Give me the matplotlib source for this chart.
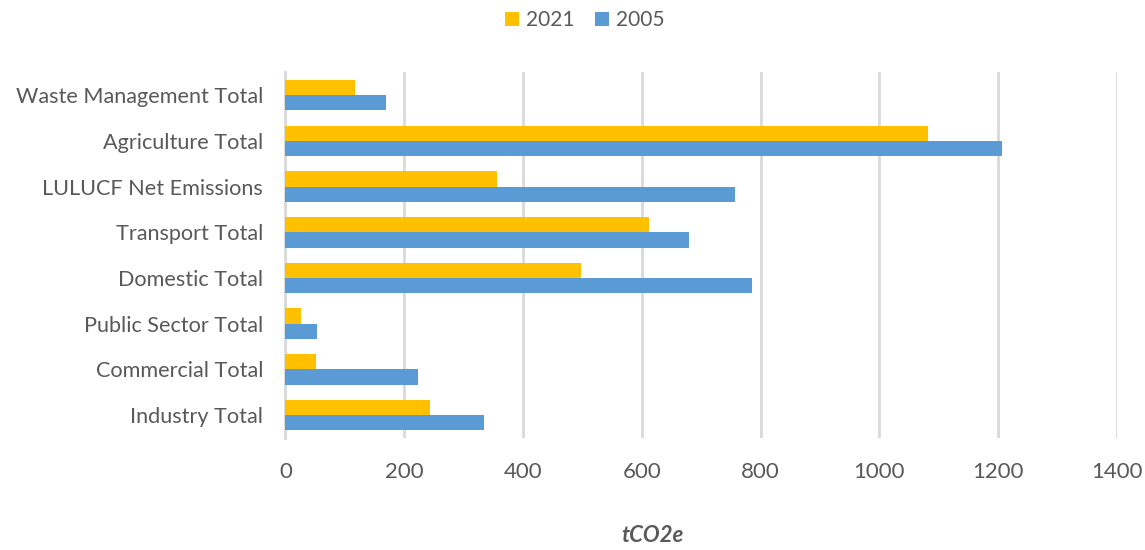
import numpy as np
import matplotlib.pyplot as plt

plt.rcParams['font.family'] = ['Lato', 'DejaVu Sans']

categories = ['Industry Total', 'Commercial Total', 'Public Sector Total', 'Domestic Total',
              'Transport Total', 'LULUCF Net Emissions', 'Agriculture Total',
              'Waste Management Total']
v2021 = [243, 51, 27, 497, 612, 357, 1082, 117]
v2005 = [334, 224, 53, 786, 680, 757, 1206, 170]

grey = '#595959'
y = np.arange(len(categories))
h = 0.335

fig = plt.figure(figsize=(11.45, 5.5), dpi=100)
ax = fig.add_axes([0.2493, 0.2036, 0.7262, 0.665])

ax.barh(y + h / 2, v2021, height=h, color='#FFC000', label='2021', zorder=3)
ax.barh(y - h / 2, v2005, height=h, color='#5B9BD5', label='2005', zorder=3)

ax.set_xlim(0, 1400)
ax.set_ylim(-0.5, len(categories) - 0.5)
ax.set_xticks(np.arange(0, 1401, 200))
ax.set_yticks(y)
ax.set_yticklabels(categories)
ax.tick_params(axis='both', length=0, labelsize=16, labelcolor=grey)
ax.tick_params(axis='y', labelsize=15.6, pad=16)
ax.tick_params(axis='x', pad=17)
ax.grid(axis='x', color='#D9D9D9', linewidth=2, zorder=0)
for s in ['top', 'right', 'bottom']:
    ax.spines[s].set_visible(False)
ax.spines['left'].set_color('#D9D9D9')
ax.spines['left'].set_linewidth(2)

fig.text(652 / 1145, 15 / 550, 'tCO2e', fontsize=16, color=grey, fontweight='bold',
         fontstyle='italic', ha='center', va='center')

fig.legend(loc='center', bbox_to_anchor=(585 / 1145, 1 - 20 / 550), ncol=2, frameon=False,
           fontsize=15, labelcolor=grey, handlelength=0.65, handleheight=0.65,
           handletextpad=0.35, columnspacing=1.0)

fig.savefig('out.png', dpi=100)
